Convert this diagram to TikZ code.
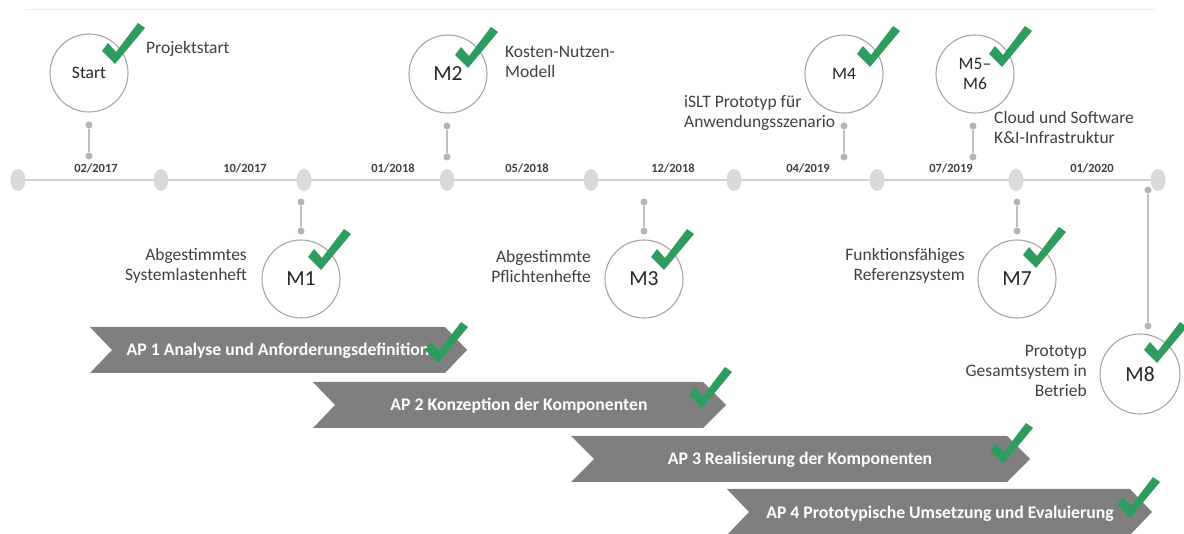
\documentclass[tikz,border=0pt]{standalone}
\usepackage{fontspec}
\setmainfont{Carlito}
\usetikzlibrary{shapes.geometric}
\definecolor{ckgreen}{RGB}{46,155,95}
\definecolor{txt}{RGB}{64,64,64}
\definecolor{tlgray}{RGB}{208,208,208}
\definecolor{ovgray}{RGB}{217,217,217}
\definecolor{dotgray}{RGB}{180,180,180}
\definecolor{cgray}{RGB}{166,166,166}
\definecolor{apgray}{RGB}{127,127,127}
\tikzset{
  chk/.pic={\fill[ckgreen] (0,3) -- (-13,-10) -- (-7,-18) -- (1,-9) -- (23,-38) -- (30,-33) -- cycle;},
  ms/.style={circle,draw=cgray,line width=1.1pt,minimum size=78pt,inner sep=0pt,text=black!85,align=center},
  oval/.style={ellipse,fill=ovgray,minimum width=15pt,minimum height=22pt,inner sep=0pt},
  dotn/.style={circle,fill=dotgray,minimum size=7pt,inner sep=0pt},
  conn/.style={draw=dotgray!85,line width=1.3pt},
  datel/.style={font=\fontsize{12.5}{14}\selectfont\bfseries,text=txt,inner sep=0pt},
  lbl/.style={font=\fontsize{17.5}{20}\selectfont,text=txt,inner sep=0pt},
  aptext/.style={font=\fontsize{17.7}{20}\selectfont\bfseries,text=white,inner sep=0pt},
  apbox/.style={fill=apgray}
}
\begin{document}
\begin{tikzpicture}[x=1pt,y=-1pt]
\useasboundingbox (0,0) rectangle (1184,534);
% top faint rule
\draw[black!8,line width=1pt] (25,10) -- (1155,10);
% timeline
\foreach \i/\x in {1/18,2/161,3/304,4/447,5/591,6/734,7/877,8/1016,9/1158}{\coordinate (t\i) at (\x,180);}
\draw[tlgray,line width=2pt] (t1) -- (t9);
\foreach \i in {1,...,9}{\node[oval] (o\i) at (t\i) {};}
% dates
\node[datel] (dA) at (96,168) {02/2017};
\node[datel] (dB) at (245,168) {10/2017};
\node[datel] (dC) at (393,168) {01/2018};
\node[datel] (dD) at (527,168) {05/2018};
\node[datel] (dE) at (673,168) {12/2018};
\node[datel] (dF) at (808,168) {04/2019};
\node[datel] (dG) at (951,168) {07/2019};
\node[datel] (dH) at (1092,168) {01/2020};
% connectors
\foreach \n/\x/\ya/\yb in {s/89/125/156, m2/447/126/157, m4/844/126/157, m56/973/126/157, m1/301/202/231, m3/644/202/231, m7/1017/202/231, m8/1148/190/326}{
  \node[dotn] (\n a) at (\x,\ya) {};
  \node[dotn] (\n b) at (\x,\yb) {};
  \draw[conn] (\n a) -- (\n b);
}
% milestones
\node[ms,font=\fontsize{17.5}{20}\selectfont] (cs) at (89,73) {Start};
\node[ms,font=\fontsize{21.5}{24}\selectfont] (c2) at (448,74) {M2};
\node[ms,font=\fontsize{17.5}{20}\selectfont] (c4) at (844,74) {M4};
\node[ms,font=\fontsize{17.5}{20}\selectfont] (c56) at (975,74) {M5–\\M6};
\node[ms,font=\fontsize{21.5}{24}\selectfont] (c1) at (301,279) {M1};
\node[ms,font=\fontsize{21.5}{24}\selectfont] (c3) at (644,279) {M3};
\node[ms,font=\fontsize{21.5}{24}\selectfont] (c7) at (1017,279) {M7};
\node[ms,font=\fontsize{21.5}{24}\selectfont,minimum size=80pt] (c8) at (1140,374) {M8};
% labels
\node[lbl,anchor=west] (lS) at (146,49) {Projektstart};
\node[lbl,anchor=west,align=left] (l2) at (505,62) {Kosten-Nutzen-\\Modell};
\node[lbl,anchor=west,align=left] (l4) at (684,113) {iSLT Prototyp für\\Anwendungsszenario};
\node[lbl,anchor=west,align=left] (l56) at (994,127) {Cloud und Software\\K\&I-Infrastruktur};
\node[lbl,anchor=east,align=right] (l1) at (247,266) {Abgestimmtes\\Systemlastenheft};
\node[lbl,anchor=east,align=right] (l3) at (591,266) {Abgestimmte\\Pflichtenhefte};
\node[lbl,anchor=east,align=right] (l7) at (965,266) {Funktionsfähiges\\Referenzsystem};
\node[lbl,anchor=east,align=right] (l8) at (1087,371) {Prototyp\\Gesamtsystem in\\Betrieb};
% work packages
\fill[apbox] (90,327) -- (445,327) -- (467,350) -- (445,373) -- (90,373) -- (112,350) -- cycle;
\node[aptext] (ap1) at (278,351) {AP 1 Analyse und Anforderungsdefinition};
\fill[apbox] (313,382) -- (703,382) -- (726,405) -- (703,428) -- (313,428) -- (335,405) -- cycle;
\node[aptext] (ap2) at (519,406) {AP 2 Konzeption der Komponenten};
\fill[apbox] (571,436) -- (1007,436) -- (1030,459) -- (1007,482) -- (571,482) -- (594,459) -- cycle;
\node[aptext] (ap3) at (800,460) {AP 3 Realisierung der Komponenten};
\fill[apbox] (727,489) -- (1130,489) -- (1152,512) -- (1130,535) -- (727,535) -- (749,512) -- cycle;
\node[aptext] (ap4) at (940,514) {AP 4 Prototypische Umsetzung und Evaluierung};
% checks
\pic at (115,61) {chk};
\pic at (468,65) {chk};
\pic at (870,64) {chk};
\pic at (1002,64) {chk};
\pic at (321,267) {chk};
\pic at (664,267) {chk};
\pic at (1036,265) {chk};
\pic at (1157,360) {chk};
\pic at (438,360) {chk};
\pic at (702,405) {chk};
\pic at (1003,461) {chk};
\pic at (1130,515) {chk};
\end{tikzpicture}
\end{document}
